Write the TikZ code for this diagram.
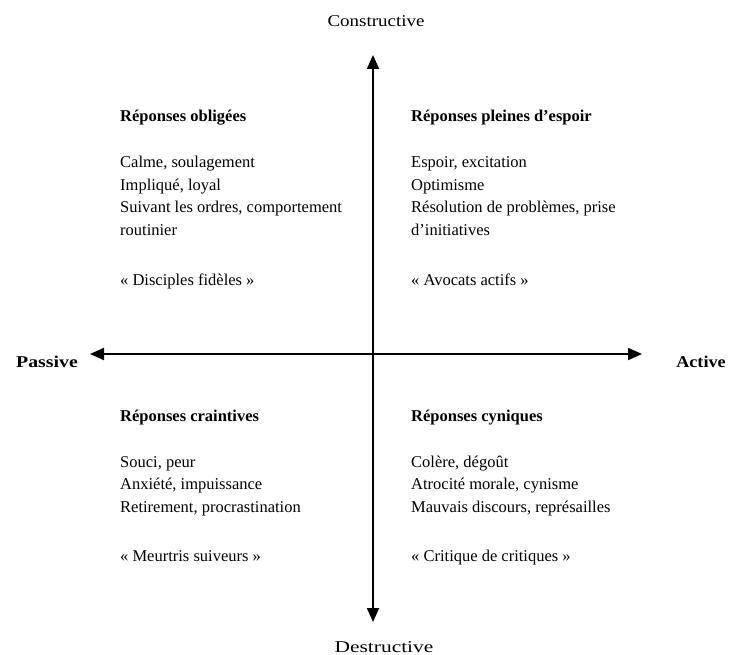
\documentclass[tikz,border=0pt]{standalone}
\usepackage{fontspec}
\setmainfont{Liberation Serif}
\usetikzlibrary{arrows.meta}
\begin{document}
\begin{tikzpicture}[x=1pt,y=-1pt,
  txt/.style={inner sep=0pt,anchor=base west,font=\fontsize{16.5}{22.5}\selectfont},
  ttl/.style={inner sep=0pt,anchor=base west,font=\fontsize{16.5}{22.5}\selectfont\bfseries},
  axlab/.style={inner sep=0pt,anchor=base,font=\fontsize{16.5}{20}\selectfont},
  axis/.style={line width=2pt,{Triangle[length=14pt,width=12pt]}-{Triangle[length=14pt,width=12pt]}}]
\useasboundingbox (0,0) rectangle (731,655);
\coordinate (top) at (373,55);
\coordinate (bot) at (373,622);
\coordinate (left) at (90,354);
\coordinate (right) at (642,354);
\draw[axis] (bot) -- (top);
\draw[axis] (left) -- (right);
\node[axlab] (cons) at (376,27) {\scalebox{1.15}[1]{Constructive}};
\node[axlab] (dest) at (384,652) {\scalebox{1.3}[1]{Destructive}};
\node[axlab,font=\fontsize{16.5}{20}\selectfont\bfseries] (pass) at (47,367) {\scalebox{1.2}[1]{Passive}};
\node[axlab,font=\fontsize{16.5}{20}\selectfont\bfseries] (act) at (701,367) {\scalebox{1.1}[1]{Active}};
% top left
\node[ttl] (t1) at (120,122) {Réponses obligées};
\node[txt] (a1) at (120,168) {Calme, soulagement};
\node[txt] (a2) at (120,190.5) {Impliqué, loyal};
\node[txt] (a3) at (120,213) {Suivant les ordres, comportement};
\node[txt] (a4) at (120,235.5) {routinier};
\node[txt] (q1) at (120,285) {« Disciples fidèles »};
% top right
\node[ttl] (t2) at (411,122) {Réponses pleines d’espoir};
\node[txt] (b1) at (411,168) {Espoir, excitation};
\node[txt] (b2) at (411,190.5) {Optimisme};
\node[txt] (b3) at (411,213) {Résolution de problèmes, prise};
\node[txt] (b4) at (411,235.5) {d’initiatives};
\node[txt] (q2) at (411,285) {« Avocats actifs »};
% bottom left
\node[ttl] (t3) at (120,421) {Réponses craintives};
\node[txt] (c1) at (120,467) {Souci, peur};
\node[txt] (c2) at (120,489.5) {Anxiété, impuissance};
\node[txt] (c3) at (120,512) {Retirement, procrastination};
\node[txt] (q3) at (120,561) {« Meurtris suiveurs »};
% bottom right
\node[ttl] (t4) at (411,421) {Réponses cyniques};
\node[txt] (d1) at (411,467) {Colère, dégoût};
\node[txt] (d2) at (411,489.5) {Atrocité morale, cynisme};
\node[txt] (d3) at (411,512) {Mauvais discours, représailles};
\node[txt] (q4) at (411,561) {« Critique de critiques »};
\end{tikzpicture}
\end{document}
